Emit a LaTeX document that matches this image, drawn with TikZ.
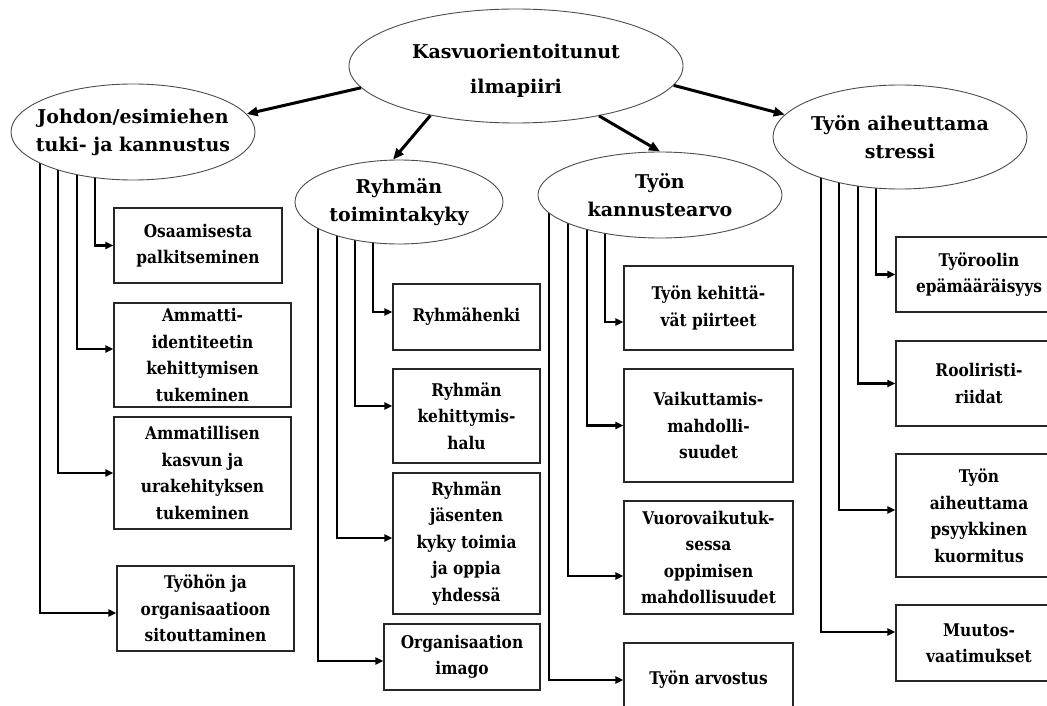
\documentclass[tikz,border=0pt]{standalone}
\usepackage{fontspec}
\usetikzlibrary{shapes.geometric,arrows.meta,backgrounds}
\newfontfamily\ellfont{DejaVu Serif}
\newfontfamily\boxfont{DejaVu Serif}[FakeStretch=0.88]

\begin{document}
\begin{tikzpicture}[x=1pt,y=-1pt,
  oval/.style={ellipse, draw=black!70, line width=0.9pt, fill=white, inner sep=0pt},
  ovaltext/.style={inner sep=0pt, align=center, font=\ellfont\bfseries\fontsize{19pt}{28pt}\selectfont},
  cbox/.style={rectangle, draw=black!85, line width=1.2pt, fill=white, inner sep=0pt, align=center,
    font=\boxfont\bfseries\fontsize{17.5pt}{26.5pt}\selectfont},
  stem/.style={line width=2.2pt, -{Triangle[length=8pt,width=7pt]}},
  link/.style={line width=3pt, -{Triangle[length=11pt,width=9pt]}}
]
\clip (0,0) rectangle (1047,706);

% main concept and its four dimensions
\node[oval, minimum width=334pt, minimum height=114pt] (T) at (516,66) {};
\node[ovaltext, font=\ellfont\bfseries\fontsize{19pt}{35pt}\selectfont] (Tt) at ([yshift=-5pt]T.center) {Kasvuorientoitunut\\ilmapiiri};

\node[oval, minimum width=244pt, minimum height=96pt] (L) at (133,132) {};
\node[ovaltext] (Lt) at (L.center) {Johdon/esimiehen\\tuki- ja kannustus};

\node[oval, minimum width=208pt, minimum height=84pt] (R) at (399,202) {};
\node[ovaltext] (Rt) at (R.center) {Ryhmän\\toimintakyky};

\node[oval, minimum width=244pt, minimum height=86pt] (K) at (660,195) {};
\node[ovaltext] (Kt) at (K.center) {Työn\\kannustearvo};

\node[oval, minimum width=254pt, minimum height=104pt] (S) at (900,137) {};
\node[ovaltext] (St) at (S.center) {Työn aiheuttama\\stressi};

\draw[link] (T.188) -- (L.9);
\draw[link] (T.210) -- (R.98);
\draw[link] (T.329) -- (K.north);
\draw[link] (T.353) -- (S.169);

% management support
\node[cbox, minimum width=168pt, minimum height=75pt]  (b1) at (198,245.5) {Osaamisesta\\palkitseminen};
\node[cbox, minimum width=177pt, minimum height=104pt] (b2) at (202.5,355) {Ammatti-\\identiteetin\\kehittymisen\\tukeminen};
\node[cbox, minimum width=177pt, minimum height=112pt] (b3) at (202.5,473) {Ammatillisen\\kasvun ja\\urakehityksen\\tukeminen};
\node[cbox, minimum width=177pt, minimum height=85pt]  (b4) at (205.5,608.5) {Työhön ja\\organisaatioon\\sitouttaminen};

% group capability
\node[cbox, minimum width=147pt, minimum height=66pt]  (r1) at (466.5,317) {Ryhmähenki};
\node[cbox, minimum width=147pt, minimum height=94pt]  (r2) at (466.5,416) {Ryhmän\\kehittymis-\\halu};
\node[cbox, minimum width=147pt, minimum height=141pt] (r3) at (466.5,543.5) {Ryhmän\\jäsenten\\kyky toimia\\ja oppia\\yhdessä};
\node[cbox, minimum width=156pt, minimum height=66pt]  (r4) at (462,657) {Organisaation\\imago};

% motivating value of work
\node[cbox, minimum width=169pt, minimum height=84pt]  (k1) at (708.5,308) {Työn kehittä-\\vät piirteet};
\node[cbox, minimum width=169pt, minimum height=113pt] (k2) at (708.5,425.5) {Vaikuttamis-\\mahdolli-\\suudet};
\node[cbox, minimum width=169pt, minimum height=113pt] (k3) at (708.5,557.5) {Vuorovaikutuk-\\sessa\\oppimisen\\mahdollisuudet};
\node[cbox, minimum width=169pt, minimum height=74pt]  (k4) at (708.5,680) {Työn arvostus};

% work-related stress
\node[cbox, minimum width=166pt, minimum height=75pt]  (s1) at (979,274.5) {Työroolin\\epämääräisyys};
\node[cbox, minimum width=166pt, minimum height=85pt]  (s2) at (979,383.5) {Rooliristi-\\riidat};
\node[cbox, minimum width=166pt, minimum height=123pt] (s3) at (979,515.5) {Työn\\aiheuttama\\psyykkinen\\kuormitus};
\node[cbox, minimum width=166pt, minimum height=76pt]  (s4) at (979,643) {Muutos-\\vaatimukset};

% stems from each dimension down to its items
\begin{scope}[on background layer]
  \draw[stem] ([xshift=-38pt]L.center) |- (b1.west);
  \draw[stem] ([xshift=-56pt]L.center) |- ([yshift=6pt]b2.west);
  \draw[stem] ([xshift=-75pt]L.center) |- (b3.west);
  \draw[stem] ([xshift=-93pt]L.center) |- ([yshift=-4.5pt]b4.west);

  \draw[stem] ([xshift=-26pt]R.center) |- ([yshift=5pt]r1.west);
  \draw[stem] ([xshift=-44pt]R.center) |- ([yshift=10pt]r2.west);
  \draw[stem] ([xshift=-62pt]R.center) |- ([yshift=5.5pt]r3.west);
  \draw[stem] ([xshift=-81pt]R.center) |- ([yshift=-4pt]r4.west);

  \draw[stem] ([xshift=-55pt]K.center) |- ([yshift=-14pt]k1.west);
  \draw[stem] ([xshift=-73pt]K.center) |- (k2.west);
  \draw[stem] ([xshift=-92pt]K.center) |- ([yshift=-18.5pt]k3.west);
  \draw[stem] ([xshift=-111pt]K.center) |- (k4.west);

  \draw[stem] ([xshift=-24pt]S.center) |- (s1.west);
  \draw[stem] ([xshift=-42pt]S.center) |- (s2.west);
  \draw[stem] ([xshift=-61pt]S.center) |- ([yshift=5.5pt]s3.west);
  \draw[stem] ([xshift=-79pt]S.center) |- ([yshift=11pt]s4.west);
\end{scope}
\end{tikzpicture}
\end{document}
